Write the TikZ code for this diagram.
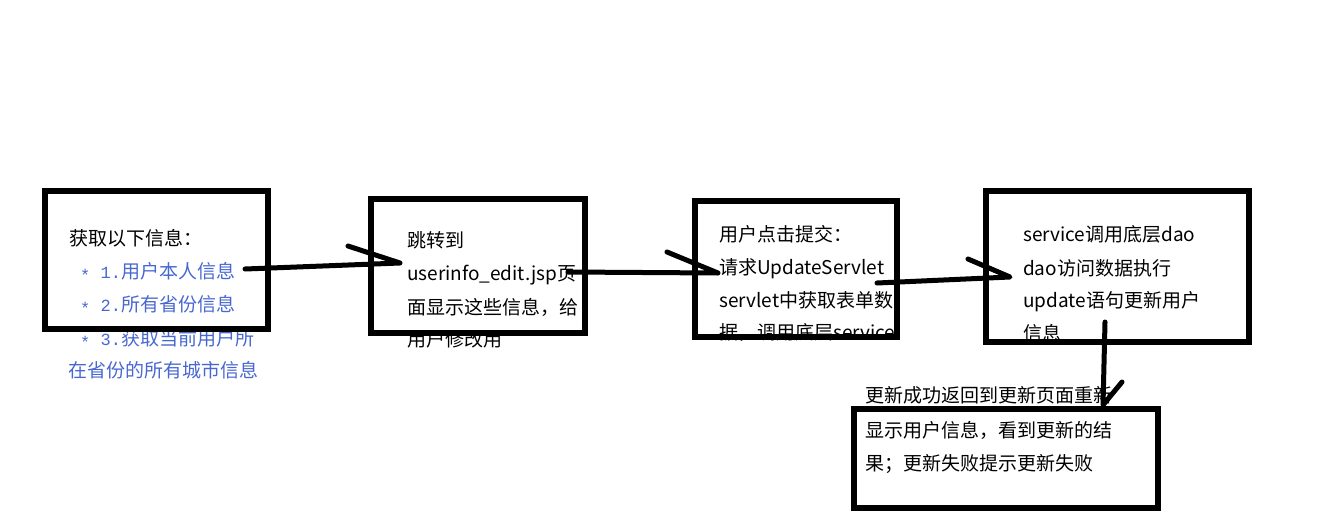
\documentclass[tikz,border=0pt]{standalone}
\usepackage{fontspec}
\setmainfont{Noto Sans CJK SC}
\newfontfamily\monofnt{Liberation Mono}
\definecolor{noteblue}{RGB}{72,104,208}
\newcommand{\monotext}[1]{{\monofnt\fontsize{17}{17}\selectfont\raisebox{-3.5pt}{*} #1}}
\tikzset{
  txt/.style={anchor=base west, inner sep=0pt, font=\fontsize{19}{19}\selectfont, text=black},
  bluetxt/.style={txt, text=noteblue},
  box/.style={draw=black, line width=6pt, rectangle, inner sep=0pt, fill=none},
  conn/.style={draw=black, line width=5pt, line cap=round, line join=round},
}
\begin{document}
\begin{tikzpicture}[x=1pt, y=-1pt]
\useasboundingbox (0,0) rectangle (1324,530);
% ---- texts (under the boxes) ----
\node[txt] (t1a) at (69,245) {获取以下信息：};
\node[bluetxt] (t1b) at (80,278) {\monotext{1.}用户本人信息};
\node[bluetxt] (t1c) at (80,311) {\monotext{2.}所有省份信息};
\node[bluetxt] (t1d) at (80,345) {\monotext{3.}获取当前用户所};
\node[bluetxt] (t1e) at (68,377) {在省份的所有城市信息};
\node[txt] (t2a) at (407,247) {跳转到};
\node[txt] (t2b) at (407,280) {userinfo\_edit.jsp页};
\node[txt] (t2c) at (407,314) {面显示这些信息，给};
\node[txt] (t2d) at (407,346) {用户修改用};
\node[txt] (t3a) at (719,241) {用户点击提交：};
\node[txt] (t3b) at (719,274) {请求UpdateServlet};
\node[txt] (t3c) at (719,307) {servlet中获取表单数};
\node[txt] (t3d) at (719,339) {据，调用底层service};
\node[txt] (t4a) at (1023,241) {service调用底层dao};
\node[txt] (t4b) at (1023,275) {dao访问数据执行};
\node[txt] (t4c) at (1023,307) {update语句更新用户};
\node[txt] (t4d) at (1023,340) {信息};
\node[txt] (t5a) at (865,402) {更新成功返回到更新页面重新};
\node[txt] (t5b) at (865,437) {显示用户信息，看到更新的结};
\node[txt] (t5c) at (865,470) {果；更新失败提示更新失败};
% ---- boxes ----
\node[box, minimum width=223pt, minimum height=138pt] (b1) at (156.5,260) {};
\node[box, minimum width=214pt, minimum height=134pt] (b2) at (478,266) {};
\node[box, minimum width=202pt, minimum height=136pt] (b3) at (796,269) {};
\node[box, minimum width=263pt, minimum height=151pt] (b4) at (1117.5,266.5) {};
\node[box, minimum width=304pt, minimum height=99pt] (b5) at (1006,458.5) {};
% ---- connector points: start, tip, barb end ----
\coordinate (a1s) at (245,269);
\coordinate (a1e) at (400,263);
\coordinate (a1b) at (348,246);
\coordinate (a2s) at (568,272);
\coordinate (a2e) at (718,273);
\coordinate (a2b) at (667,252);
\coordinate (a3s) at (877,283);
\coordinate (a3e) at (1010,277);
\coordinate (a3b) at (968,259);
\coordinate (a4s) at (1105,322);
\coordinate (a4e) at (1103,405);
\coordinate (a4b) at (1122,382);
% ---- connectors (hand-drawn half arrowheads) ----
\draw[conn] (a1s) -- (a1e) -- (a1b);
\draw[conn] (a2s) -- (a2e) -- (a2b);
\draw[conn] (a3s) -- (a3e) -- (a3b);
\draw[conn] (a4s) -- (a4e) -- (a4b);
\end{tikzpicture}
\end{document}
